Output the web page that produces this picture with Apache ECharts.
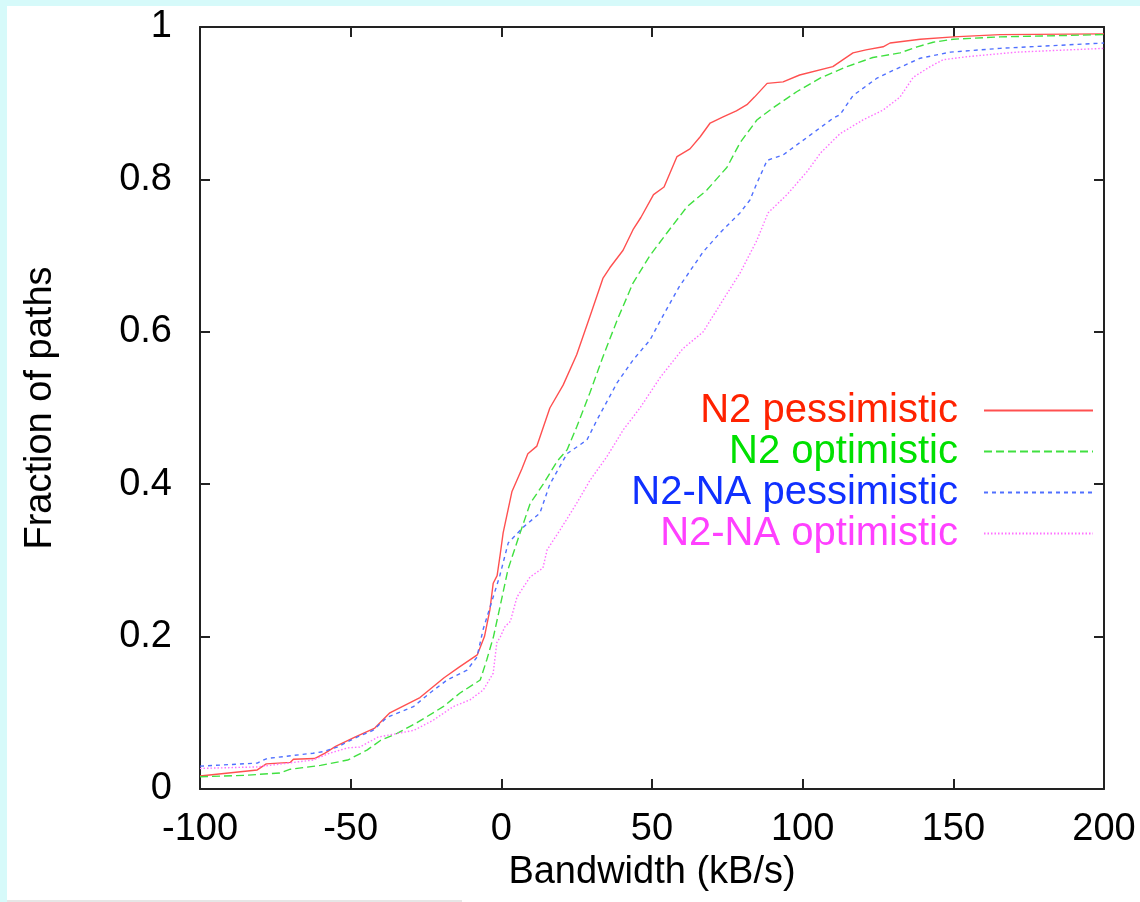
<!DOCTYPE html>
<html>
<head>
<meta charset="utf-8">
<script src="https://cdn.jsdelivr.net/npm/echarts@6/dist/echarts.min.js"></script>
<style>
  html, body { margin: 0; padding: 0; background: #d6fafa; }
  #main { position: absolute; left: 7px; top: 6px; width: 1133px; height: 896px; background: #fff; }
  #edge { position: absolute; left: 7px; top: 900px; width: 455px; height: 2px; background: #e6e6e6; }
</style>
</head>
<body>
<div id="main"></div>
<div id="edge"></div>
<script>
// CDF points: [bandwidth kB/s, fraction of paths]
var n2Pess = [[-100,0.017],[-81,0.025],[-78,0.033],[-70,0.035],[-69,0.039],[-62,0.04],[-58.5,0.047],[-55,0.056],[-48.6,0.068],[-42,0.08],[-37,0.1],[-27,0.12],[-19,0.146],[-14,0.16],[-8,0.176],[-5.6,0.2],[-3.8,0.235],[-2.7,0.27],[-1.4,0.28],[-0.3,0.31],[0.6,0.336],[3.5,0.39],[6.8,0.42],[8.8,0.44],[11.8,0.45],[16.1,0.5],[20.5,0.53],[25,0.57],[29.4,0.62],[33.7,0.67],[36,0.684],[40.4,0.707],[43.7,0.734],[46.3,0.75],[50.5,0.78],[54,0.79],[58.3,0.83],[62.6,0.84],[66,0.856],[69.3,0.874],[73.6,0.882],[78,0.89],[81.5,0.898],[84,0.908],[88.2,0.926],[93.5,0.928],[99,0.937],[110,0.948],[116.7,0.966],[121,0.97],[126.7,0.974],[129,0.979],[139,0.984],[150,0.987],[165.5,0.99],[200,0.991]];
var n2Opt = [[-100,0.016],[-85,0.018],[-73.5,0.021],[-70,0.026],[-60,0.031],[-51,0.038],[-44.6,0.051],[-40,0.064],[-34.6,0.073],[-28,0.087],[-19.3,0.108],[-13.7,0.126],[-7,0.143],[-4.8,0.17],[-2.6,0.2],[-0.4,0.24],[2.2,0.288],[5.7,0.33],[9.6,0.375],[13.9,0.4],[18.5,0.43],[21.8,0.445],[25,0.475],[29.4,0.52],[33.7,0.567],[38.4,0.615],[43.7,0.664],[49.3,0.7],[55,0.73],[61.6,0.764],[68.2,0.786],[74.9,0.816],[79.2,0.848],[84.8,0.878],[90.2,0.894],[98,0.915],[105.8,0.933],[114.7,0.948],[123.3,0.96],[132.3,0.966],[138,0.974],[143.3,0.98],[150,0.984],[165.5,0.987],[200,0.99]];
var naPess = [[-100,0.03],[-81,0.034],[-77.8,0.04],[-62.5,0.047],[-59.2,0.049],[-54.5,0.055],[-47.9,0.068],[-42.6,0.077],[-37.9,0.094],[-29.2,0.108],[-23.7,0.126],[-18,0.143],[-11.4,0.156],[-8.1,0.173],[-6,0.21],[-2.7,0.252],[-0.5,0.28],[2.3,0.323],[7.4,0.344],[12.8,0.362],[16.1,0.4],[21.8,0.44],[28.4,0.458],[31.7,0.484],[38.4,0.533],[43.7,0.563],[49.3,0.589],[53.5,0.62],[59,0.659],[67,0.705],[72.6,0.73],[79.2,0.756],[82.5,0.773],[84.8,0.795],[88.2,0.825],[93.5,0.832],[101.4,0.855],[110,0.88],[112.4,0.885],[116.7,0.91],[124.7,0.933],[130,0.943],[139,0.959],[149,0.967],[165.5,0.972],[200,0.979]];
var naOpt = [[-100,0.027],[-81,0.029],[-62.5,0.038],[-57,0.047],[-51,0.054],[-47,0.055],[-41,0.068],[-29,0.077],[-22.7,0.09],[-16,0.108],[-10.4,0.117],[-6,0.13],[-2.7,0.152],[-1.5,0.192],[-0.3,0.2],[1.2,0.213],[3,0.22],[5.2,0.252],[9.5,0.278],[13.8,0.29],[15.2,0.314],[19.5,0.34],[25,0.375],[29.4,0.405],[35,0.436],[40.4,0.471],[46,0.5],[52.7,0.54],[60.3,0.578],[67,0.6],[73.6,0.642],[79.2,0.677],[84.8,0.72],[88.5,0.756],[94.8,0.78],[101.4,0.81],[106,0.835],[112.4,0.86],[120,0.878],[126.7,0.891],[132.3,0.908],[136.7,0.934],[142.3,0.948],[146.6,0.957],[154.5,0.961],[171,0.967],[200,0.972]];

var names = ['N2 pessimistic', 'N2 optimistic', 'N2-NA pessimistic', 'N2-NA optimistic'];
var textColors = ['#ff2200', '#00e000', '#1030ff', '#ff40ff'];
var lineColors = ['#ff5050', '#40e040', '#5070ff', '#ff70ff'];
var lineTypes = ['solid', [8, 4], [4, 4], [1.5, 2]];
var allData = [n2Pess, n2Opt, naPess, naOpt];

var font = 'Liberation Sans, Helvetica, Arial, sans-serif';
var ink = '#222';

function frameAxis(pos, showLabel) {
  return {
    type: 'value',
    position: pos,
    axisLine: { show: true, onZero: false, lineStyle: { color: ink, width: 2 } },
    axisTick: { show: true, inside: true, length: 10, lineStyle: { color: ink, width: 2 } },
    axisLabel: { show: showLabel, color: '#000', fontSize: 38, fontFamily: font },
    splitLine: { show: false }
  };
}

var chart = echarts.init(document.getElementById('main'));

var xBottom = frameAxis('bottom', true);
Object.assign(xBottom, {
  min: -100, max: 200, interval: 50,
  name: 'Bandwidth (kB/s)', nameLocation: 'middle', nameGap: 60,
  nameTextStyle: { color: '#000', fontSize: 38, fontFamily: font }
});
xBottom.axisLabel.margin = 22;
var xTop = frameAxis('top', false);
Object.assign(xTop, { min: -100, max: 200, interval: 50 });

var yLeft = frameAxis('left', true);
Object.assign(yLeft, {
  min: 0, max: 1, interval: 0.2,
  name: 'Fraction of paths', nameLocation: 'middle', nameGap: 140,
  nameTextStyle: { color: '#000', fontSize: 38, fontFamily: font }
});
yLeft.axisLabel.margin = 28;
var yRight = frameAxis('right', false);
Object.assign(yRight, { min: 0, max: 1, interval: 0.2 });

chart.setOption({
  animation: false,
  backgroundColor: '#fff',
  grid: { left: 193, top: 21, right: 36, bottom: 113 },
  legend: {
    orient: 'vertical',
    right: 41,
    top: 379,
    align: 'right',
    itemWidth: 109,
    itemHeight: 14,
    itemGap: 0,
    itemStyle: { opacity: 0 },
    textStyle: { fontSize: 40, fontFamily: font, lineHeight: 41, padding: [0, 21, 0, 0] },
    data: names.map(function (n, i) {
      return { name: n, textStyle: { color: textColors[i] } };
    })
  },
  xAxis: [xBottom, xTop],
  yAxis: [yLeft, yRight],
  series: allData.map(function (d, i) {
    return {
      name: names[i],
      type: 'line',
      data: d,
      xAxisIndex: 0,
      yAxisIndex: 0,
      symbol: 'none',
      color: lineColors[i],
      lineStyle: { color: lineColors[i], width: 1.4, type: lineTypes[i] }
    };
  })
});
</script>
</body>
</html>
